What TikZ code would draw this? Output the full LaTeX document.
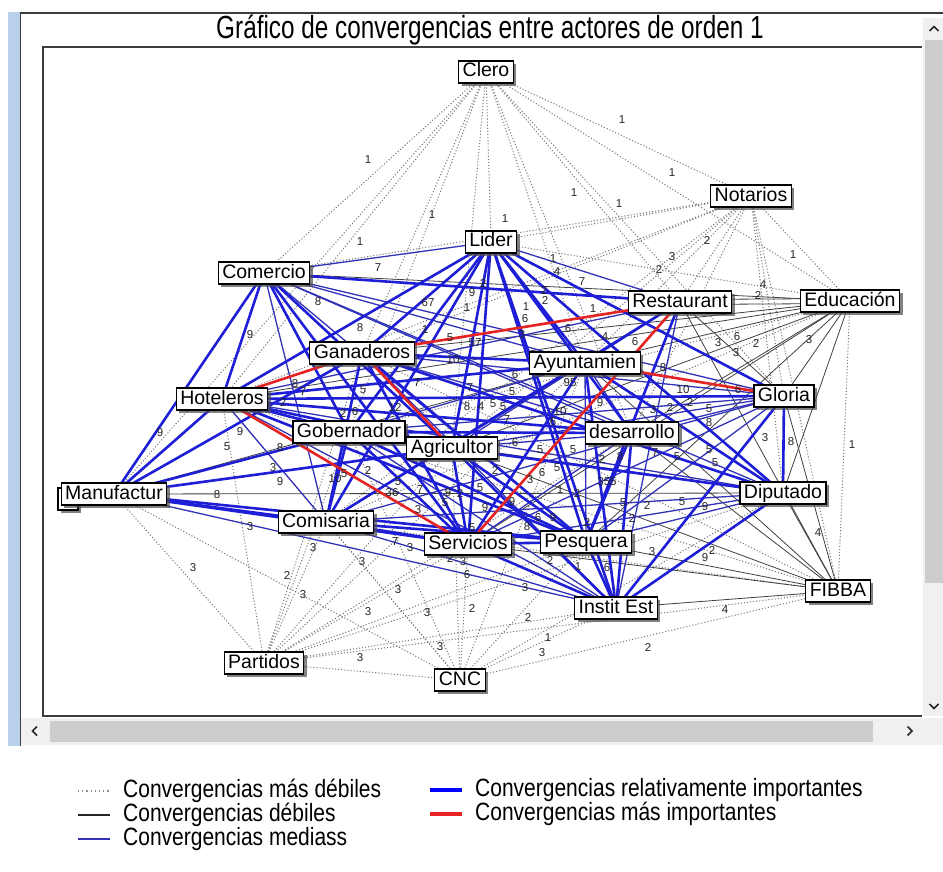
\documentclass[tikz,border=0pt]{standalone}
\usepackage{fontspec}
\setmainfont{Liberation Sans}
\newfontfamily\narrowfont[FakeStretch=0.76]{Liberation Sans}
\newfontfamily\legfont[FakeStretch=0.84]{Liberation Sans}
\usetikzlibrary{shadows}
\pgfdeclarelayer{edges}
\pgfdeclarelayer{labs}
\pgfsetlayers{edges,labs,main}
\definecolor{tblue}{RGB}{30,30,215}
\definecolor{mblue}{RGB}{50,50,185}
\definecolor{ired}{RGB}{230,35,35}
\definecolor{wgray}{RGB}{120,120,120}
\definecolor{framec}{RGB}{60,60,60}
\definecolor{sbar}{RGB}{205,205,205}
\definecolor{strack}{RGB}{240,240,240}
\definecolor{lblue}{RGB}{185,208,235}
\tikzset{
 actor/.style={draw=black, line width=1.1pt, fill=white, inner xsep=4pt, inner ysep=0pt,
   minimum height=22pt, text height=14pt, text depth=4pt, font=\fontsize{19.5}{22}\selectfont,
   drop shadow={shadow xshift=3pt, shadow yshift=-3pt, fill=black!70, opacity=0.7}},
 weak/.style={draw=wgray, line width=1pt, dash pattern=on 1.1pt off 2pt},
 debil/.style={draw=black!75, line width=0.8pt},
 media/.style={draw=mblue, line width=1.3pt},
 rel/.style={draw=tblue, line width=2.6pt},
 imp/.style={draw=ired, line width=2.6pt},
 num/.style={font=\fontsize{11.5}{11.5}\selectfont, text=black!85, inner sep=0pt},
 legtext/.style={font=\legfont\fontsize{25}{26}\selectfont, anchor=west, inner sep=0pt},
 chev/.style={draw=black!85, line width=1.6pt},
}
\begin{document}
\begin{tikzpicture}[x=1pt,y=-1pt]
\useasboundingbox (0,0) rectangle (943,872);
\begin{pgfonlayer}{edges}
\fill[white] (0,0) rectangle (943,872);
% window frame
\fill[lblue] (8,12) rectangle (19.5,746);
\draw[framec, line width=1.5pt] (20.5,13) -- (20.5,746);
\draw[framec, line width=2pt] (20,13.5) -- (943,13.5);
\fill[strack] (923,18) rectangle (943,716);
\fill[sbar] (925,40) rectangle (943,583);
\fill[strack] (21,718) rectangle (943,745);
\fill[sbar] (50,721) rectangle (873,742);
\draw[framec, line width=1.5pt] (922,47) -- (43,47) -- (43,716) -- (922,716);
\draw[chev] (929.5,31) -- (934,26.5) -- (938.5,31);
\draw[chev] (929.5,704) -- (934,708.5) -- (938.5,704);
\draw[chev] (37,726.5) -- (32.5,731) -- (37,735.5);
\draw[chev] (907.5,726.5) -- (912,731) -- (907.5,735.5);
\end{pgfonlayer}
\node[font=\narrowfont\fontsize{32}{34}\selectfont, inner sep=0pt] (title) at (490,30) {Gráfico de convergencias entre actores de orden 1};
% actors
\node[actor] (Cl) at (486,72) {Clero};
\node[actor] (No) at (751,196) {Notarios};
\node[actor] (Li) at (491,242) {Lider};
\node[actor] (Co) at (264,273) {Comercio};
\node[actor] (Re) at (680,302) {Restaurant};
\node[actor] (Ed) at (850,301) {Educación};
\node[actor] (Ga) at (362,353) {Ganaderos};
\node[actor] (Ay) at (585,363) {Ayuntamien};
\node[actor] (Ho) at (222,399) {Hoteleros};
\node[actor] (Gl) at (784,396) {Gloria};
\node[actor] (Gb) at (349,432) {Gobernador};
\node[actor] (Ag) at (452,448) {Agricultor};
\node[actor] (De) at (632,433) {desarrollo};
\node[actor, minimum width=20pt] (Mb) at (68,499) {};
\node[actor] (Ma) at (114,494) {Manufactur};
\node[actor] (Di) at (783,493) {Diputado};
\node[actor] (Cm) at (326,522) {Comisaria};
\node[actor] (Se) at (468,544) {Servicios};
\node[actor] (Pe) at (586,542) {Pesquera};
\node[actor] (FI) at (838,591) {FIBBA};
\node[actor] (IE) at (616,608) {Instit Est};
\node[actor] (Pa) at (264,663) {Partidos};
\node[actor] (CN) at (460,680) {CNC};
% connectors
\begin{pgfonlayer}{edges}
\foreach \a/\b in {Cl/Co, Cl/Ho, Cl/Ma, Cl/Ga, Cl/Gb, Cl/Li, Cl/Ag, Cl/Ay, Cl/Re, Cl/No, Cl/Ed, Cl/Gl, Cl/De,
  No/Li, No/Co, No/Re, No/Ay, No/Ed, No/Gl, No/Ag, No/Cm, No/Di, No/FI, No/De, No/Ga, No/Ho,
  Pa/Ma, Pa/Cm, Pa/Ho, Pa/Gb, Pa/Ag, Pa/Se, Pa/Pe, Pa/IE, Pa/CN, Pa/Di, Pa/FI, Pa/De, Pa/Ga, Pa/Ay,
  CN/Ma, CN/Cm, CN/Se, CN/Pe, CN/IE, CN/FI, CN/Ag, CN/Gb, CN/Di, CN/Ho, CN/Ay,
  Ed/FI, Ed/Li, Ed/Gb, Ed/Cm, FI/Ho, FI/Ga, FI/Cm}
  \draw[weak] (\a.center) -- (\b.center);
\draw[debil] ([yshift=2.5pt]Re.center) -- ([yshift=2.5pt]Ed.center);
\draw[debil] ([yshift=-2.5pt]Re.center) -- ([yshift=-2.5pt]Ed.center);
\foreach \a/\b in {Ed/Ay, Ed/De, Ed/Gl, Co/Ed, Ed/Ga, Ed/Ag, Ed/Di, Ed/Se, Ed/Pe, Ed/Ho,
  FI/IE, FI/Di, FI/Gl, FI/De, FI/Re, FI/Ay, FI/Pe, FI/Se, FI/Ag, Ma/Di, Gb/Di, Ma/Ay, Re/Gl}
  \draw[debil] (\a.center) -- (\b.center);
\foreach \a/\b in {Co/Li, Li/Re, Co/Gl, Co/Cm, Co/De, Co/Ay, Ma/IE, Ho/Re, Ho/Cm, Ga/Gl, Gb/Gl, Gb/Ay,
  Ag/Gl, Ag/Re, Ay/Cm, Ay/Pe, De/Se, De/Gl, Re/IE, Gl/Se, Gl/Pe, Gl/Cm, Di/Se, Di/Pe, Di/Cm,
  Cm/IE, Ho/IE, Ga/IE, Gb/IE, Co/Di, Co/Pe, Ho/Di, Ag/De, Ay/De, Ga/De}
  \draw[media] (\a.center) -- (\b.center);
\foreach \a/\b in {Li/Ho, Li/Ga, Li/Gb, Li/Ag, Li/Cm, Li/Se, Li/Pe, Li/IE, Li/De, Li/Gl, Li/Di, Li/Ay,
  Co/Re, Co/Ho, Co/Ma, Co/Gb, Co/Ag, Co/Se, Ma/Ho, Ma/Ga, Ma/Gb, Ma/Ag, Ma/Cm, Ma/Se, Ma/Pe,
  Ho/Gb, Ho/Ag, Ho/Ay, Ho/De, Ho/Gl, Ho/Pe, Ga/Ay, Ga/Se, Ga/Pe, Ga/Di, Ga/Cm,
  Gb/Se, Gb/Pe, Gb/Cm, Gb/De, Ag/Se, Ag/Pe, Ag/IE, Ag/Di, Ay/Se, Ay/IE, Ay/Di,
  De/Pe, De/IE, Re/Cm, Re/Pe, Gl/Di, Gl/IE, Di/IE, Cm/Se, Cm/Pe, Se/Pe, Se/IE, Pe/IE}
  \draw[rel] (\a.center) -- (\b.center);
\foreach \a/\b in {Ga/Re, Ho/Ga, Ga/Ag, Ho/Se, Se/Re, Ay/Gl}
  \draw[imp] (\a.center) -- (\b.center);
\end{pgfonlayer}
% numbers
\begin{pgfonlayer}{labs}
\foreach \x/\y/\t [count=\i] in {622/120/1, 672/173/1, 574/193/1, 619/204/1, 432/215/1, 368/160/1, 360/242/1, 505/219/1,
 707/240/2, 672/257/3, 659/269/2, 793/255/1, 763/285/4, 758/295/2,
 378/268/7, 553/259/1, 557/272/4, 582/282/7, 483/283/2, 544/290/2, 545/300/2, 472/293/9, 467/308/1, 526/307/1, 593/309/1,
 525/319/6, 568/329/6, 522/335/3, 605/337/4, 635/342/6, 718/343/3, 737/337/6, 756/343/2, 736/353/3, 809/340/3,
 318/302/8, 428/303/67, 250/335/9, 360/328/8, 425/330/1, 450/338/5, 475/343/57, 453/360/10, 417/383/7, 470/388/7,
 295/384/8, 303/392/7, 363/390/5, 283/402/2, 467/407/8, 481/407/4, 493/404/5, 503/407/5, 343/413/2, 355/412/6,
 395/407/12, 240/432/9, 227/447/5, 280/448/8, 160/433/9,
 515/375/6, 570/383/95, 512/392/5, 507/420/7, 560/412/10, 553/422/6, 600/403/9, 663/368/8, 683/390/10, 738/390/6,
 690/402/2, 709/409/5, 653/410/3, 670/407/2, 709/423/8, 765/438/3, 791/442/8, 852/445/1,
 515/443/6, 540/450/5, 573/450/5, 602/459/2, 620/457/8, 655/453/7, 677/457/5, 709/450/5, 715/463/5, 557/468/5,
 542/473/6, 530/480/3, 495/470/2, 480/488/5, 607/482/355, 560/490/1, 577/493/2, 448/493/9, 460/493/2, 445/503/5,
 485/508/9, 512/502/9, 623/503/5, 647/505/2, 682/502/5, 705/507/9, 538/518/6, 553/518/9, 527/527/8, 472/528/5,
 587/522/2, 632/518/2,
 273/468/3, 280/482/9, 335/479/10, 344/474/5, 368/470/2, 398/482/5, 217/495/8, 392/493/36, 420/490/7, 418/510/3,
 250/527/3, 313/548/3, 395/542/7, 410/548/3, 362/562/3, 450/558/2, 463/562/3, 467/575/6, 193/568/3, 287/575/2,
 303/595/3, 398/590/3, 368/612/3, 427/613/3, 472/608/2, 440/647/3, 360/658/3,
 550/560/2, 578/567/1, 607/568/6, 525/588/3, 652/552/3, 705/558/9, 712/550/2, 818/533/4, 528/617/2, 548/638/1,
 542/653/3, 648/647/2, 725/610/4}
  \node[num] (n\i) at (\x,\y) {\t};
\end{pgfonlayer}
% legend
\coordinate (L1a) at (78,791); \coordinate (L1b) at (110,791);
\coordinate (L2a) at (78,815); \coordinate (L2b) at (110,815);
\coordinate (L3a) at (78,839); \coordinate (L3b) at (110,839);
\coordinate (L4a) at (430,790); \coordinate (L4b) at (462,790);
\coordinate (L5a) at (430,814); \coordinate (L5b) at (462,814);
\draw[draw=black!45, line width=1.2pt, dash pattern=on 1.2pt off 3pt] (L1a) -- (L1b);
\draw[draw=black!85, line width=2pt] (L2a) -- (L2b);
\draw[draw=mblue, line width=2pt] (L3a) -- (L3b);
\draw[draw=blue, line width=4pt] (L4a) -- (L4b);
\draw[draw=ired, line width=4pt] (L5a) -- (L5b);
\node[legtext] (T1) at (123,791) {Convergencias más débiles};
\node[legtext] (T2) at (123,815) {Convergencias débiles};
\node[legtext] (T3) at (123,839) {Convergencias mediass};
\node[legtext] (T4) at (475,790) {Convergencias relativamente importantes};
\node[legtext] (T5) at (475,814) {Convergencias más importantes};
\end{tikzpicture}
\end{document}
